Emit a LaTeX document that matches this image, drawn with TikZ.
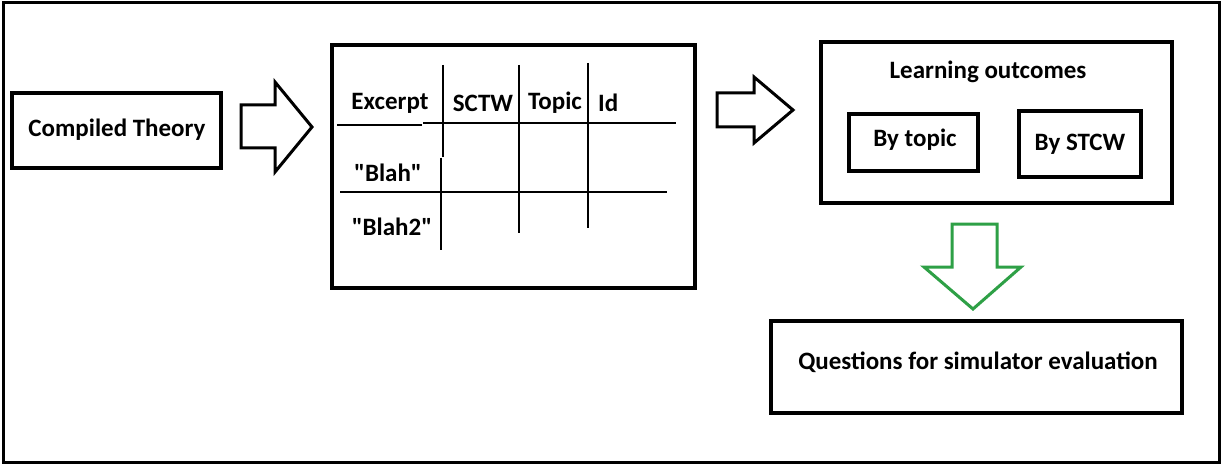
\documentclass[tikz,border=0pt]{standalone}
\usepackage{fontspec}
\setmainfont{Carlito}
\definecolor{arrgreen}{RGB}{46,160,70}
\begin{document}
\begin{tikzpicture}[x=1pt,y=-1pt,
  lbl/.style={font=\fontsize{25}{28}\selectfont\bfseries, inner sep=0pt},
  boxthick/.style={draw, line width=4pt},
  gridline/.style={line width=1.4pt},
  blockarrow/.style={draw, line width=3pt, line join=miter, fill=white}]
\useasboundingbox (0,0) rectangle (1223,465);
\fill[white] (0,0) rectangle (1223,465);
% outer frame
\draw[line width=3pt] (3,3) rectangle (1219,462);
% Compiled Theory
\draw[boxthick] (12,93) rectangle (221,168);
\node[lbl] (ct) at (117,130) {Compiled Theory};
% arrow 1
\draw[blockarrow] (241,105) -- (275,105) -- (275,82) -- (312,127) -- (275,172) -- (275,148) -- (241,148) -- cycle;
% table box
\draw[boxthick] (332,45) rectangle (695,288);
\draw[gridline] (337,125) -- (422,125);
\draw[gridline] (423,123) -- (676,123);
\draw[gridline] (340,192) -- (667,192);
\draw[gridline] (443,65) -- (443,157);
\draw[gridline] (441,158) -- (441,250);
\draw[gridline] (519,65) -- (519,233);
\draw[gridline] (588,63) -- (588,228);
\node[lbl] (ex) at (390,103) {Excerpt};
\node[lbl] (sc) at (483,103) {SCTW};
\node[lbl] (tp) at (555,103) {Topic};
\node[lbl, anchor=west] (id) at (598,103) {Id};
\node[lbl] (b1) at (388,173) {\textquotedbl Blah\textquotedbl};
\node[lbl] (b2) at (392,227) {\textquotedbl Blah2\textquotedbl};
% arrow 2
\draw[blockarrow] (717,93) -- (754,93) -- (754,77) -- (793,110) -- (754,143) -- (754,127) -- (717,127) -- cycle;
% learning outcomes
\draw[boxthick] (821,42) rectangle (1172,203);
\node[lbl] (lo) at (988,72) {Learning outcomes};
\draw[boxthick] (849,114) rectangle (978,171);
\node[lbl] (bt) at (915,140) {By topic};
\draw[boxthick] (1019,111) rectangle (1141,177);
\node[lbl] (bs) at (1080,144) {By STCW};
% green arrow
\draw[blockarrow, draw=arrgreen] (952,224) -- (997,224) -- (997,267) -- (1021,267) -- (973,309) -- (924,267) -- (952,267) -- cycle;
% questions
\draw[boxthick] (771,321) rectangle (1182,413);
\node[lbl] (q) at (978,362) {Questions for simulator evaluation};
\end{tikzpicture}
\end{document}
